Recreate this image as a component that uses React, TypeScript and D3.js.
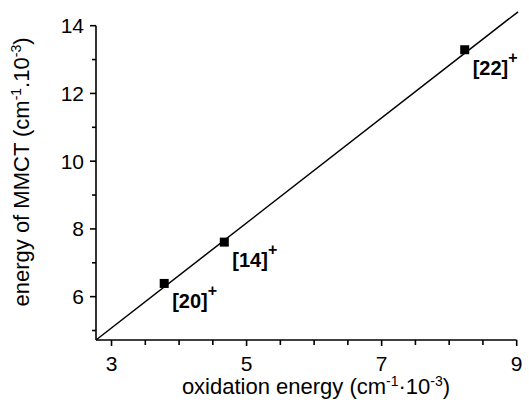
import React from 'react';
import * as d3 from 'd3';

// measured points (oxidation energy vs MMCT energy, both cm^-1 * 10^-3)
const complexes = ['[20]', '[14]', '[22]'];
const oxEnergy = [3.78, 4.67, 8.23];
const mmctEnergy = [6.39, 7.61, 13.29];

// ends of the fitted straight line
const fitX = [2.77, 9.02];
const fitY = [4.72, 14.41];

const xMajor = [3, 5, 7, 9];
const xMinor = [3.5, 4, 4.5, 5.5, 6, 6.5, 7.5, 8, 8.5];
const yMajor = [6, 8, 10, 12, 14];
const yMinor = [5, 7, 9, 11, 13];

const W = 529;
const H = 411;
const font = '"Liberation Sans", Arial, sans-serif';

const App = () => {
  const x = d3.scaleLinear().domain([2.77, 9]).range([96, 516.7]);
  const y = d3.scaleLinear().domain([4.72, 14]).range([340, 25.7]);

  const fitLine = d3.line<number>()
    .x((d, i) => x(fitX[i]))
    .y(d => y(d));

  const points = complexes.map((c, i) => ({ label: c, x: oxEnergy[i], y: mmctEnergy[i] }));
  const x0 = x.range()[0];
  const y0 = y.range()[0];

  return (
    <svg width={W} height={H} style={{ position: 'absolute', left: 0, top: 0, background: '#fff' }}
      fontFamily={font}>
      {/* axes */}
      <g stroke="#000" strokeWidth={1.6} fill="none">
        <line x1={x0} x2={x0} y1={y(14)} y2={y0} />
        <line x1={x0} x2={x(9)} y1={y0} y2={y0} />
        {xMajor.map(t => (
          <line key={'xM' + t} x1={x(t)} x2={x(t)} y1={y0} y2={y0 + 6} />
        ))}
        {xMinor.map(t => (
          <line key={'xm' + t} x1={x(t)} x2={x(t)} y1={y0} y2={y0 + 5} />
        ))}
        {yMajor.map(t => (
          <line key={'yM' + t} x1={x0 - 6} x2={x0} y1={y(t)} y2={y(t)} />
        ))}
        {yMinor.map(t => (
          <line key={'ym' + t} x1={x0 - 4} x2={x0} y1={y(t)} y2={y(t)} />
        ))}
      </g>

      {/* tick labels */}
      <g fontSize={21} fill="#000">
        {xMajor.map(t => (
          <text key={'xl' + t} x={x(t)} y={371} textAnchor="middle">{t}</text>
        ))}
        {yMajor.map(t => (
          <text key={'yl' + t} x={84} y={y(t)} dy="0.36em" textAnchor="end">{t}</text>
        ))}
      </g>

      {/* fitted line */}
      <path d={fitLine(fitY) || ''} stroke="#000" strokeWidth={1.5} fill="none" />

      {/* points */}
      {points.map(p => (
        <rect key={p.label} x={x(p.x) - 4.5} y={y(p.y) - 4.5} width={9} height={9} fill="#000" />
      ))}
      {points.map(p => (
        <text key={'t' + p.label} x={x(p.x) + 8} y={y(p.y) + 25} fontSize={20} fontWeight="bold" fill="#000">
          {p.label}
          <tspan dy={-12} fontSize={16}>+</tspan>
        </text>
      ))}

      {/* axis titles */}
      <text x={316} y={394} textAnchor="middle" fontSize={22} fill="#000">
        oxidation energy (cm<tspan dy={-8} fontSize={14}>-1</tspan>
        <tspan dy={8}>·10</tspan><tspan dy={-8} fontSize={14}>-3</tspan><tspan dy={8}>)</tspan>
      </text>
      <text transform="translate(29,172) rotate(-90)" textAnchor="middle" fontSize={22} fill="#000">
        energy of MMCT (cm<tspan dy={-8} fontSize={14}>-1</tspan>
        <tspan dy={8}>.10</tspan><tspan dy={-8} fontSize={14}>-3</tspan><tspan dy={8}>)</tspan>
      </text>
    </svg>
  );
};

export default App;
